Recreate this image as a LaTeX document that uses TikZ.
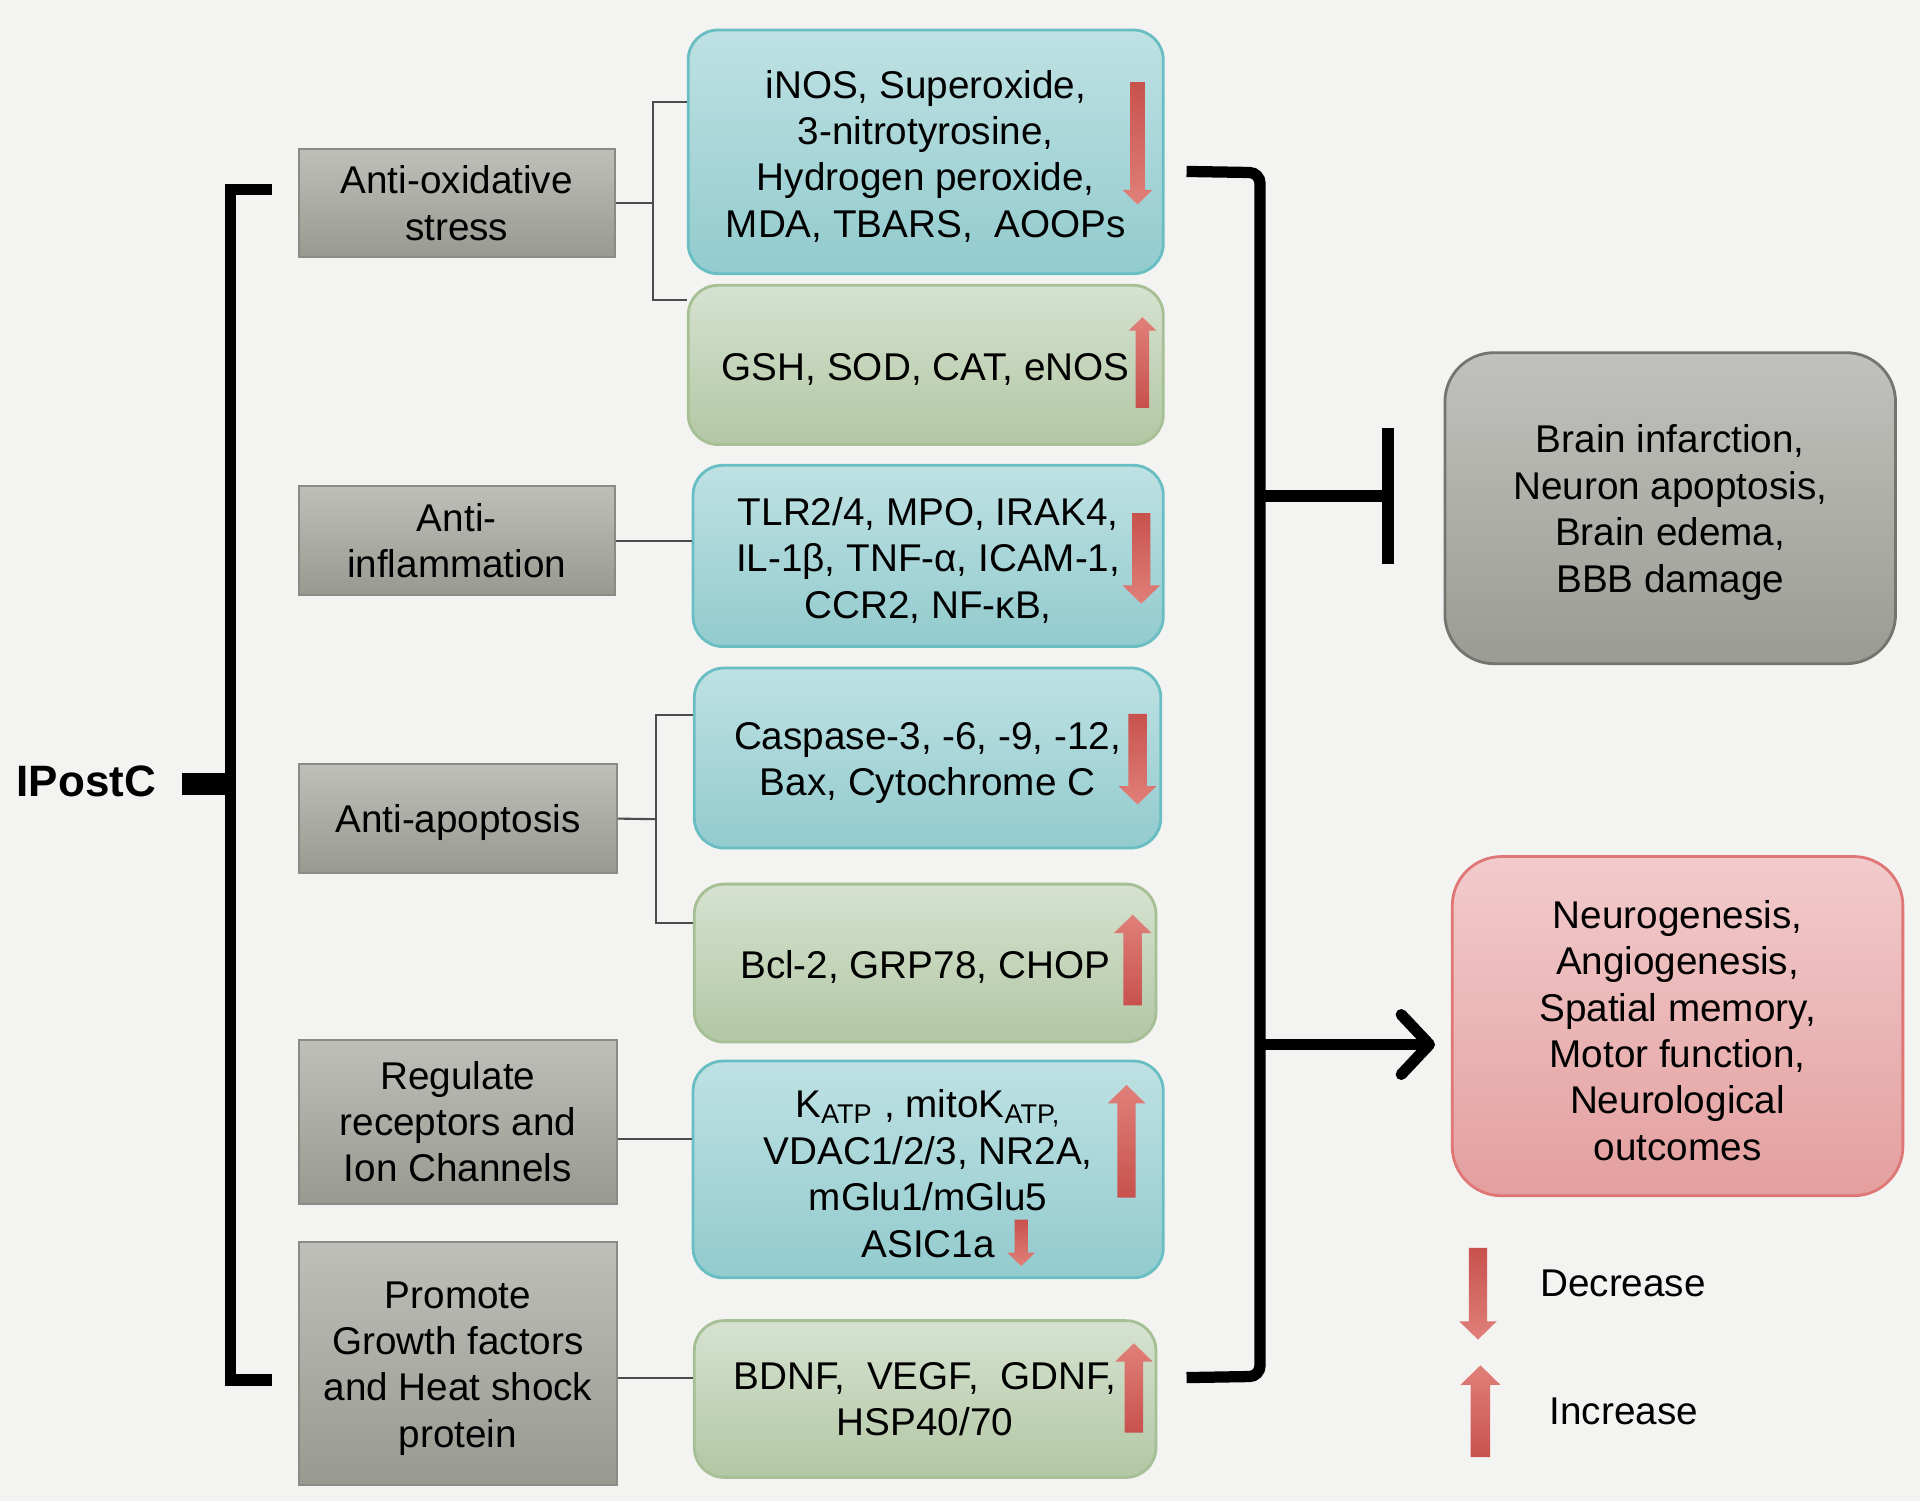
\documentclass[tikz,border=0pt]{standalone}
\usepackage{fontspec}
\setmainfont{Liberation Sans}
\usetikzlibrary{arrows.meta,positioning,calc}

\definecolor{bgc}{HTML}{F3F3F1}
\definecolor{cattop}{HTML}{BEBFB9}
\definecolor{catbot}{HTML}{989A91}
\definecolor{catedge}{HTML}{8A8B84}
\definecolor{dectop}{HTML}{BFE1E3}
\definecolor{decbot}{HTML}{92CBCE}
\definecolor{decedge}{HTML}{69BEC3}
\definecolor{inctop}{HTML}{D6E2D0}
\definecolor{incbot}{HTML}{B2C7A4}
\definecolor{incedge}{HTML}{A6BF95}
\definecolor{harmtop}{HTML}{C1C2BD}
\definecolor{harmbot}{HTML}{9A9C94}
\definecolor{harmedge}{HTML}{73756E}
\definecolor{bentop}{HTML}{F2CBCC}
\definecolor{benbot}{HTML}{E39F9E}
\definecolor{benedge}{HTML}{DE7776}
\definecolor{arrdark}{HTML}{C8514D}
\definecolor{arrlight}{HTML}{E08079}

\def\pu{0.012245cm}
\newcommand{\lift}{\rule{0pt}{10.4pt}}
% red up / down markers
\newcommand{\decarrow}[4]{% x, tail, tip, half shaft
  \shade[top color=arrdark, bottom color=arrlight]
    (#1-#4,#2) -- (#1+#4,#2) -- (#1+#4,#3-2*#4) -- (#1+2.05*#4,#3-2*#4)
    -- (#1,#3) -- (#1-2.05*#4,#3-2*#4) -- (#1-#4,#3-2*#4) -- cycle;}
\newcommand{\incarrow}[4]{% x, tip, tail, half shaft
  \shade[top color=arrlight, bottom color=arrdark]
    (#1,#2) -- (#1+2.05*#4,#2+2*#4) -- (#1+#4,#2+2*#4) -- (#1+#4,#3)
    -- (#1-#4,#3) -- (#1-#4,#2+2*#4) -- (#1-2.05*#4,#2+2*#4) -- cycle;}

\tikzset{
  wh/.style 2 args={minimum width=#1*\pu, minimum height=#2*\pu},
  catbox/.style={rectangle, draw=catedge, line width=0.6pt, top color=cattop, bottom color=catbot, align=center, inner sep=0pt},
  decbox/.style={rectangle, rounded corners=8.5pt, draw=decedge, line width=0.8pt, top color=dectop, bottom color=decbot, align=center, inner sep=0pt},
  incbox/.style={rectangle, rounded corners=8.5pt, draw=incedge, line width=0.8pt, top color=inctop, bottom color=incbot, align=center, inner sep=0pt},
  harmbox/.style={rectangle, rounded corners=14pt, draw=harmedge, line width=0.8pt, top color=harmtop, bottom color=harmbot, align=center, inner sep=0pt},
  benbox/.style={rectangle, rounded corners=14pt, draw=benedge, line width=0.8pt, top color=bentop, bottom color=benbot, align=center, inner sep=0pt},
  link/.style={draw=black!70, line width=0.6pt},
  brk/.style={draw=black, line width=3.2pt}
}

\begin{document}
\begin{tikzpicture}[x=\pu, y=-\pu, font=\fontsize{11}{13.2}\selectfont]
    \fill[bgc] (0,0) rectangle (1568,1226);

    % left column
    \node[font=\fontsize{12.5}{15}\selectfont\bfseries] (ipc) at (70.5,638) {IPostC};
    \node[catbox, wh={258}{88}] (ox) at (373,166) {Anti-oxidative\\stress};
    \node[catbox, wh={258}{89}] (inf) at (373,441.5) {Anti-\\inflammation};
    \node[catbox, wh={260}{89}] (apo) at (374,668.5) {\lift Anti-apoptosis};
    \node[catbox, wh={260}{134}] (rec) at (374,916) {Regulate\\receptors and\\Ion Channels};
    \node[catbox, wh={260}{199}] (gro) at (374,1113.5) {\lift Promote\\Growth factors\\and Heat shock\\protein};

    % middle column
    \node[decbox, wh={388}{199}] (ros) at (756,124) {\lift iNOS, Superoxide,\\3-nitrotyrosine,\\Hydrogen peroxide,\\MDA, TBARS,~ AOOPs};
    \node[incbox, wh={388}{130}] (gsh) at (756,298) {\lift GSH, SOD, CAT, eNOS};
    \node[decbox, wh={384}{148}] (tlr) at (758,454) {\lift TLR2/4, MPO, IRAK4,\\IL-1β, TNF-α, ICAM-1,\\CCR2, NF-κB,};
    \node[decbox, wh={381}{147}] (cas) at (757.5,619) {\lift Caspase-3, -6, -9, -12,\\Bax, Cytochrome C};
    \node[incbox, wh={377}{129}] (bcl) at (755.5,786.5) {\lift Bcl-2, GRP78, CHOP};
    \node[decbox, wh={384}{177}] (kat) at (758,955) {\lift K\textsubscript{ATP} , mitoK\textsubscript{ATP,}\\VDAC1/2/3, NR2A,\\mGlu1/mGlu5\\ASIC1a};
    \node[incbox, wh={377}{128}] (bdn) at (755.5,1142.5) {BDNF,~ VEGF,~ GDNF,\\HSP40/70};

    % right column
    \node[harmbox, wh={368}{254}] (harm) at (1364,415) {\lift Brain infarction,\\Neuron apoptosis,\\Brain edema,\\BBB damage};
    \node[benbox, wh={368}{277}] (ben) at (1370,838) {\lift Neurogenesis,\\Angiogenesis,\\Spatial memory,\\Motor function,\\Neurological\\outcomes};

    % legend
    \node (decl) at (1325.5,1048) {Decrease};
    \node (incl) at (1326,1153) {Increase};

    % left bracket
    \coordinate (lt) at (222,155);
    \coordinate (lb) at (222,1127);
    \coordinate (lm) at (188,640);
    \draw[brk] (lt) -- (188,155) -- (188,1127) -- (lb);
    \draw[line width=6.3pt] (149,640) -- (lm);

    % thin links
    \coordinate (oxj) at (533,166);
    \draw[link] (ox.east) -- (oxj);
    \draw[link] (ros.west |- 0,83) -| (oxj) |- (gsh.west |- 0,245);
    \draw[link] (inf.east) -- (tlr.west |- inf.east);
    \coordinate (apj) at (536,669);
    \draw[link] (apo.east) -- (apj);
    \draw[link] (cas.west |- 0,584) -| (apj) |- (bcl.west |- 0,754);
    \draw[link] (rec.east |- 0,930) -- (kat.west |- 0,930);
    \draw[link] (gro.east |- 0,1125) -- (bdn.west |- 0,1125);

    % right bracket
    \coordinate (rt) at (969,140);
    \coordinate (rb) at (969,1125);
    \coordinate (inh) at (1029,405);
    \coordinate (act) at (1029,853);
    \draw[brk, rounded corners=3pt] (rt) -- (1029,141) -- (1029,1124) -- (rb);
    \draw[brk, -{Bar[width=38.7pt]}, shorten >=14.2pt] (inh) -- (harm.west |- inh);
    \draw[brk, -{Straight Barb[round, length=8pt, width=17pt]}, shorten >=4.5pt] (act) -- (ben.west |- act);

    % markers
    \decarrow{929}{67}{167}{6}
    \incarrow{933}{259}{333}{5.5}
    \decarrow{932}{419}{493}{7.5}
    \decarrow{929}{583}{657}{7.5}
    \incarrow{925}{747}{821}{7.5}
    \incarrow{920}{886}{978}{7.5}
    \decarrow{834}{996}{1034}{5.5}
    \incarrow{926}{1097}{1170}{7.5}
    \decarrow{1207}{1019}{1094}{7.5}
    \incarrow{1209}{1115}{1190}{8}
\end{tikzpicture}
\end{document}
